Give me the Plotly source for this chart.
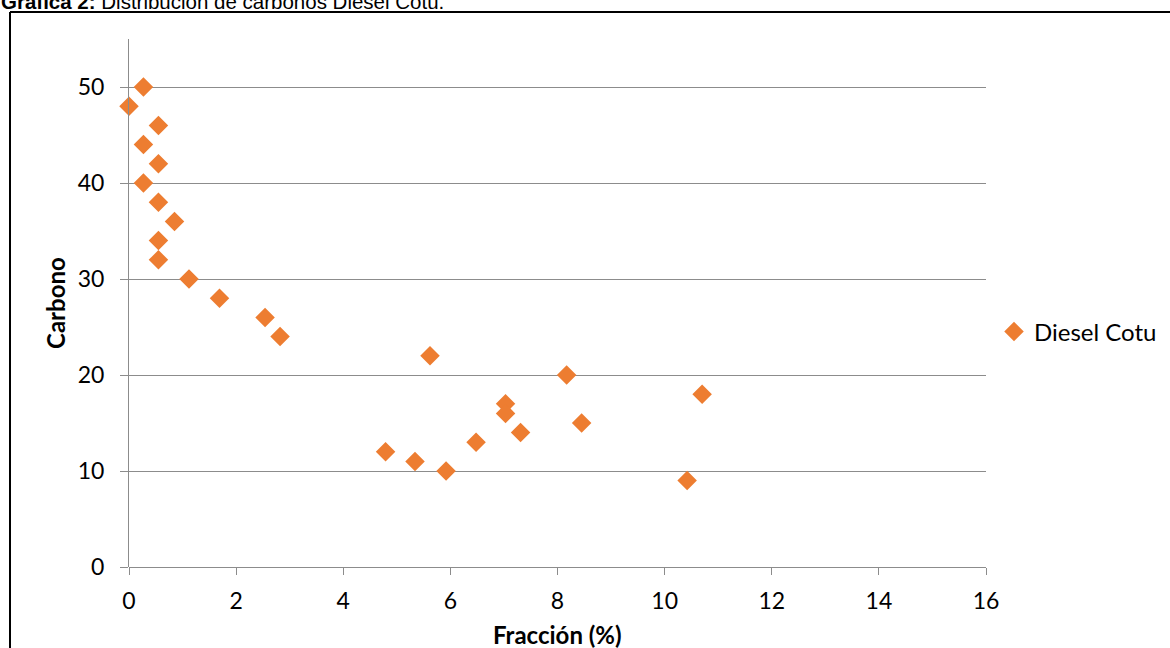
import plotly.graph_objects as go

# Carbon number distribution for Diesel Cotu
fraccion = [0.0, 0.27, 0.55, 0.27, 0.55, 0.27, 0.55, 0.85, 0.55, 0.55, 1.12, 1.69,
            2.54, 2.82, 5.62, 8.17, 10.70, 7.03, 7.03, 8.45, 7.31, 6.48, 4.79, 5.34,
            5.92, 10.42]
carbono = [48, 50, 46, 44, 42, 40, 38, 36, 34, 32, 30, 28,
           26, 24, 22, 20, 18, 17, 16, 15, 14, 13, 12, 11,
           10, 9]
x_ticks = [0, 2, 4, 6, 8, 10, 12, 14, 16]
y_ticks = [0, 10, 20, 30, 40, 50]

W, H = 1170, 648
L, R, T, B = 129, 184, 39, 81
pw, ph = W - L - R, H - T - B


def px(x):
    return (x - L) / pw


def py(y):
    return (H - B - y) / ph


FONT = "Lato"
GRAY = "#8c8c8c"

fig = go.Figure()
fig.add_trace(go.Scatter(
    x=fraccion, y=carbono, mode="markers", name="Diesel Cotu",
    marker=dict(symbol="diamond", size=15, color="#ED7D31"),
    cliponaxis=False,
))

fig.update_layout(
    width=W, height=H,
    margin=dict(l=L, r=R, t=T, b=B, pad=0, autoexpand=False),
    paper_bgcolor="white", plot_bgcolor="white",
    font=dict(family=FONT, size=23, color="black"),
    showlegend=True,
    legend=dict(x=px(994), y=py(332), xanchor="left", yanchor="middle",
                font=dict(family=FONT, size=24, color="black"),
                itemwidth=30, bgcolor="rgba(0,0,0,0)"),
    xaxis=dict(range=[0, 16], tickvals=x_ticks, showgrid=False, zeroline=False,
               showline=False, ticks="outside", ticklen=7, tickcolor=GRAY,
               tickfont=dict(family=FONT, size=23), ticklabelstandoff=6),
    yaxis=dict(range=[0, 55], tickvals=y_ticks, showgrid=True, gridcolor=GRAY,
               gridwidth=1, zeroline=True, zerolinecolor=GRAY, zerolinewidth=1,
               showline=True, linecolor=GRAY, linewidth=1,
               ticks="outside", ticklen=8, tickcolor=GRAY,
               tickfont=dict(family=FONT, size=23), ticklabelstandoff=11),
    annotations=[
        dict(text="<b>Fracción (%)</b>", xref="paper", yref="paper",
             x=px(557), y=py(634), xanchor="center", yanchor="middle",
             showarrow=False, font=dict(family=FONT, size=24)),
        dict(text="<b>Carbono</b>", xref="paper", yref="paper",
             x=px(55), y=py(303), xanchor="center", yanchor="middle",
             textangle=-90, showarrow=False, font=dict(family=FONT, size=24)),
        dict(text="<b>Gráfica 2:</b> Distribución de carbonos Diesel Cotu.",
             xref="paper", yref="paper", x=px(-1), y=py(1.5),
             xanchor="left", yanchor="middle", showarrow=False,
             font=dict(family="Liberation Sans", size=20.5, color="black")),
    ],
    shapes=[
        dict(type="line", xref="paper", yref="paper", x0=px(10), x1=px(1172),
             y0=py(12), y1=py(12), line=dict(color="black", width=2)),
        dict(type="line", xref="paper", yref="paper", x0=px(10), x1=px(10),
             y0=py(12), y1=py(650), line=dict(color="black", width=2)),
    ],
)

fig.write_html("out.html")
